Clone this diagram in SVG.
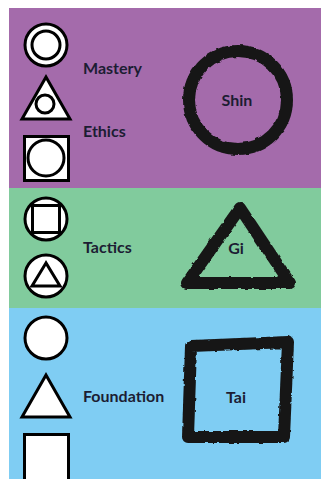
<svg xmlns="http://www.w3.org/2000/svg" width="321" height="479" viewBox="0 0 321 479">
<defs>
<filter id="brush" x="-10%" y="-10%" width="120%" height="120%">
<feTurbulence type="fractalNoise" baseFrequency="0.15" numOctaves="2" seed="3" result="n"/>
<feDisplacementMap in="SourceGraphic" in2="n" scale="3" xChannelSelector="R" yChannelSelector="G"/>
</filter>
</defs>
<style>
.icon{fill:#fff;stroke:#000;stroke-width:3}
.brush{fill:none;stroke:#151515;stroke-width:12;stroke-linejoin:round;stroke-linecap:round;filter:url(#brush)}
.lbl{font-family:Lato,"Noto Sans",sans-serif;font-weight:bold;font-size:16px;fill:#1c1d33}
.mid{text-anchor:middle}
</style>
<rect width="321" height="479" fill="#fff"/>
<g id="shin-panel">
<rect x="9" y="8" width="312" height="180" fill="#a46bab"/>
</g>
<g id="gi-panel">
<rect x="9" y="188" width="312" height="120" fill="#81cb9d"/>
</g>
<g id="tai-panel">
<rect x="9" y="308" width="312" height="171" fill="#7fcdf3"/>
</g>
<g id="icon-mastery">
<circle class="icon" cx="46" cy="45" r="21"/>
<circle class="icon" cx="46" cy="45" r="14"/>
</g>
<g id="icon-ethics-triangle">
<polygon class="icon" points="46,77 22,119 70,119"/>
<circle class="icon" cx="45" cy="104" r="9"/>
</g>
<g id="icon-ethics-square">
<rect class="icon" x="24.5" y="136.5" width="44" height="44" stroke-width="3.5"/>
<circle class="icon" cx="46" cy="158" r="18"/>
</g>
<g id="icon-tactics-square">
<circle class="icon" cx="46" cy="219" r="21"/>
<rect class="icon" x="32.5" y="205.5" width="27" height="27"/>
</g>
<g id="icon-tactics-triangle">
<circle class="icon" cx="46" cy="276" r="21"/>
<polygon class="icon" points="46,263 32,286 60,286"/>
</g>
<g id="icon-found-circle">
<circle class="icon" cx="46" cy="338" r="21"/>
</g>
<g id="icon-found-triangle">
<polygon class="icon" points="46,375 22,417 70,417"/>
</g>
<g id="icon-found-square">
<rect class="icon" x="24.5" y="434.5" width="44" height="48" stroke-width="3.5"/>
</g>
<g id="labels">
<text class="lbl" x="83" y="74">Mastery</text>
<text class="lbl" x="83" y="137">Ethics</text>
<text class="lbl" x="83" y="253">Tactics</text>
<text class="lbl" x="83" y="402">Foundation</text>
</g>
<g id="shin">
<circle class="brush" cx="238" cy="100" r="49"/>
<text class="lbl mid" x="237" y="106">Shin</text>
</g>
<g id="gi">
<polygon class="brush" points="240,208 187,283 290,283"/>
<text class="lbl mid" x="236" y="254">Gi</text>
</g>
<g id="tai">
<polygon class="brush" points="191,346 288,342 284,437 188,437"/>
<text class="lbl mid" x="236" y="403">Tai</text>
</g>
</svg>
